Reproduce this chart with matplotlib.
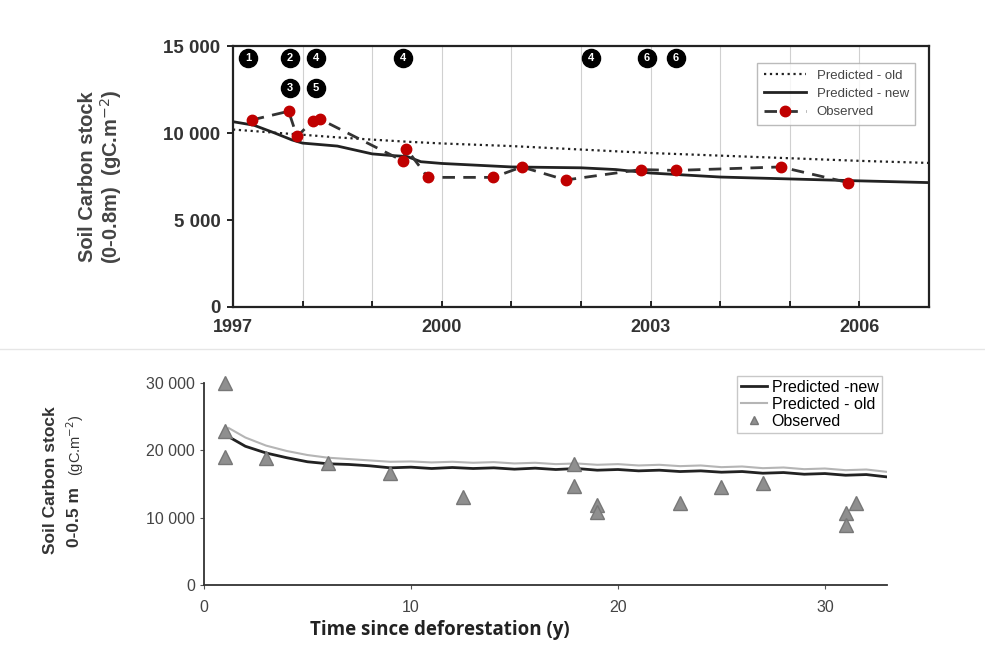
import matplotlib
matplotlib.use("Agg")
import matplotlib.pyplot as plt
import matplotlib.ticker as mticker
from matplotlib.lines import Line2D

plt.rcParams['font.family'] = ['Liberation Sans', 'DejaVu Sans']

# top panel: observed soil carbon (0-0.8 m)
obs_year = [1997.27, 1997.80, 1997.92, 1998.15, 1998.25, 1999.44, 1999.49, 1999.80,
            2000.74, 2001.15, 2001.78, 2002.86, 2003.36, 2004.87, 2005.84]
obs_val = [10750, 11250, 9800, 10700, 10800, 8400, 9100, 7450,
           7450, 8050, 7300, 7900, 7850, 8050, 7150]

old_year = [1997.0, 1997.5, 1998.0, 1998.5, 1999.0, 1999.5, 2000.0, 2001.0, 2002.0,
            2003.0, 2004.0, 2005.0, 2006.0, 2007.0]
old_val = [10200, 10050, 9900, 9750, 9620, 9500, 9400, 9250, 9050,
           8850, 8700, 8550, 8400, 8280]

new_year = [1997.0, 1997.3, 1997.6, 1997.85, 1998.0, 1998.5, 1999.0, 1999.3, 1999.5,
            1999.7, 2000.0, 2001.0, 2002.0, 2002.5, 2003.0, 2004.0, 2005.0, 2006.0, 2007.0]
new_val = [10650, 10450, 10000, 9600, 9420, 9250, 8800, 8700, 8650,
           8350, 8250, 8050, 8000, 7900, 7700, 7470, 7360, 7250, 7150]

# numbered site badges
badge_year = [1997.22, 1997.82, 1998.19, 1999.44, 2002.14, 2002.95, 2003.36, 1997.82, 1998.19]
badge_val = [14300, 14300, 14300, 14300, 14300, 14300, 14300, 12600, 12600]
badge_txt = ['1', '2', '4', '4', '4', '6', '6', '3', '5']

# bottom panel: chronosequence (0-0.5 m)
t_obs = [1, 1, 1, 3, 6, 9, 12.5, 17.9, 17.9, 19, 19, 23, 25, 27, 31, 31, 31.5]
c_obs = [30000, 22900, 19000, 18800, 18100, 16600, 13100, 17900, 14700,
         11900, 10900, 12200, 14600, 15200, 10700, 8900, 12200]

t_mod = [1.2, 2, 3, 4, 5, 6, 7, 8, 9, 10, 11, 12, 13, 14, 15, 16, 17, 18, 19, 20,
         21, 22, 23, 24, 25, 26, 27, 28, 29, 30, 31, 32, 33]
c_new = [22000, 20600, 19600, 18900, 18300, 18000, 17900, 17700, 17400, 17500, 17300,
         17450, 17300, 17400, 17200, 17350, 17150, 17300, 17050, 17150, 16950, 17050,
         16850, 16950, 16750, 16850, 16600, 16700, 16450, 16550, 16300, 16400, 16050]
c_old = [23300, 21900, 20700, 19900, 19300, 18900, 18700, 18500, 18300, 18350, 18200,
         18300, 18150, 18250, 18050, 18150, 17950, 18050, 17850, 17950, 17750, 17850,
         17650, 17750, 17500, 17600, 17350, 17450, 17200, 17300, 17050, 17150, 16800]


def thousands(v, pos):
    return '{:,.0f}'.format(v).replace(',', ' ')


fig = plt.figure(figsize=(9.85, 6.5), dpi=100)

# ---- top panel
ax1 = fig.add_axes([0.2365, 0.5277, 0.7066, 0.4015])
for x in range(1998, 2007):
    ax1.axvline(x, color='#d0d0d0', lw=0.8, zorder=0)
ax1.plot(old_year, old_val, ':', color='#222222', lw=1.6, label='Predicted - old')
ax1.plot(new_year, new_val, '-', color='#222222', lw=2.0, label='Predicted - new')
ax1.plot(obs_year, obs_val, '--', color='#333333', lw=2.0, dashes=(4.5, 3),
         marker='o', ms=7.5, mfc='#c00000', mec='#c00000', label='Observed')
ax1.scatter(badge_year, badge_val, s=170, color='black', zorder=5, clip_on=False)
for x, y, s in zip(badge_year, badge_val, badge_txt):
    ax1.text(x, y, s, color='white', fontsize=8, fontweight='bold',
             ha='center', va='center', zorder=6)
ax1.set_xlim(1997, 2007)
ax1.set_ylim(0, 15000)
ax1.set_xticks(range(1997, 2008))
ax1.set_xticklabels(['1997', '', '', '2000', '', '', '2003', '', '', '2006', ''])
ax1.set_yticks([0, 5000, 10000, 15000])
ax1.yaxis.set_major_formatter(mticker.FuncFormatter(thousands))
ax1.tick_params(axis='x', direction='in', length=4, width=1.2, labelsize=13, pad=9)
ax1.tick_params(axis='y', direction='out', length=4, width=1.2, labelsize=13.5, pad=5)
for lab in ax1.get_xticklabels() + ax1.get_yticklabels():
    lab.set_fontweight('bold')
    lab.set_color('#333333')
for sp in ax1.spines.values():
    sp.set_linewidth(1.6)
    sp.set_color('#222222')
ax1.set_ylabel('Soil Carbon stock\n(0-0.8m)  (gC.m$^{-2}$)', fontsize=14.5,
               fontweight='bold', color='#444444', labelpad=28, linespacing=1.1)
leg1 = ax1.legend(loc='upper right', bbox_to_anchor=(0.99, 0.96), fontsize=9.5,
                  frameon=True, fancybox=False, edgecolor='#aaaaaa',
                  handlelength=3.2, labelspacing=0.45, borderpad=0.5)
for t in leg1.get_texts():
    t.set_color('#444444')

# separator between the two panels
fig.add_artist(Line2D([0, 1], [0.463, 0.463], color='#e6e6e6', lw=1.0))

# ---- bottom panel
ax2 = fig.add_axes([0.2071, 0.1, 0.6934, 0.3108])
ax2.plot(t_mod, c_new, '-', color='#222222', lw=2.0, label='Predicted -new')
ax2.plot(t_mod, c_old, '-', color='#b5b5b5', lw=1.5, label='Predicted - old')
ax2.plot(t_obs, c_obs, '^', ms=10, mfc='#8f8f8f', mec='#777777', ls='none',
         label='Observed', clip_on=False, zorder=4)
ax2.set_xlim(0, 33)
ax2.set_ylim(0, 30000)
ax2.set_xticks([0, 10, 20, 30])
ax2.set_yticks([0, 10000, 20000, 30000])
ax2.yaxis.set_major_formatter(mticker.FuncFormatter(thousands))
ax2.tick_params(labelsize=11.5, labelcolor='#444444', length=3, color='#555555')
ax2.tick_params(axis='x', pad=8)
ax2.spines['top'].set_visible(False)
ax2.spines['right'].set_visible(False)
for sp in ('left', 'bottom'):
    ax2.spines[sp].set_linewidth(1.3)
    ax2.spines[sp].set_color('#333333')
leg2 = ax2.legend(loc='upper right', bbox_to_anchor=(1.005, 1.075), fontsize=11.5,
                  frameon=True, fancybox=False, edgecolor='#bbbbbb',
                  handlelength=1.6, handletextpad=0.3, labelspacing=0.12,
                  borderpad=0.25, markerscale=0.6)

fig.text(0.051, 0.262, 'Soil Carbon stock', rotation=90, fontsize=12.5,
         fontweight='bold', color='#333333', ha='center', va='center')
fig.text(0.076, 0.159, '0-0.5 m', rotation=90, fontsize=12.5,
         fontweight='bold', color='#333333', ha='center', va='bottom')
fig.text(0.076, 0.268, '(gC.m$^{-2}$)', rotation=90, fontsize=10.5,
         color='#333333', ha='center', va='bottom')
fig.text(0.447, 0.016, 'Time since deforestation (y)', fontsize=13.5,
         fontweight='bold', family=['Open Sans', 'DejaVu Sans'], color='#222222',
         ha='center', va='bottom')

fig.savefig('out.png', dpi=100)
